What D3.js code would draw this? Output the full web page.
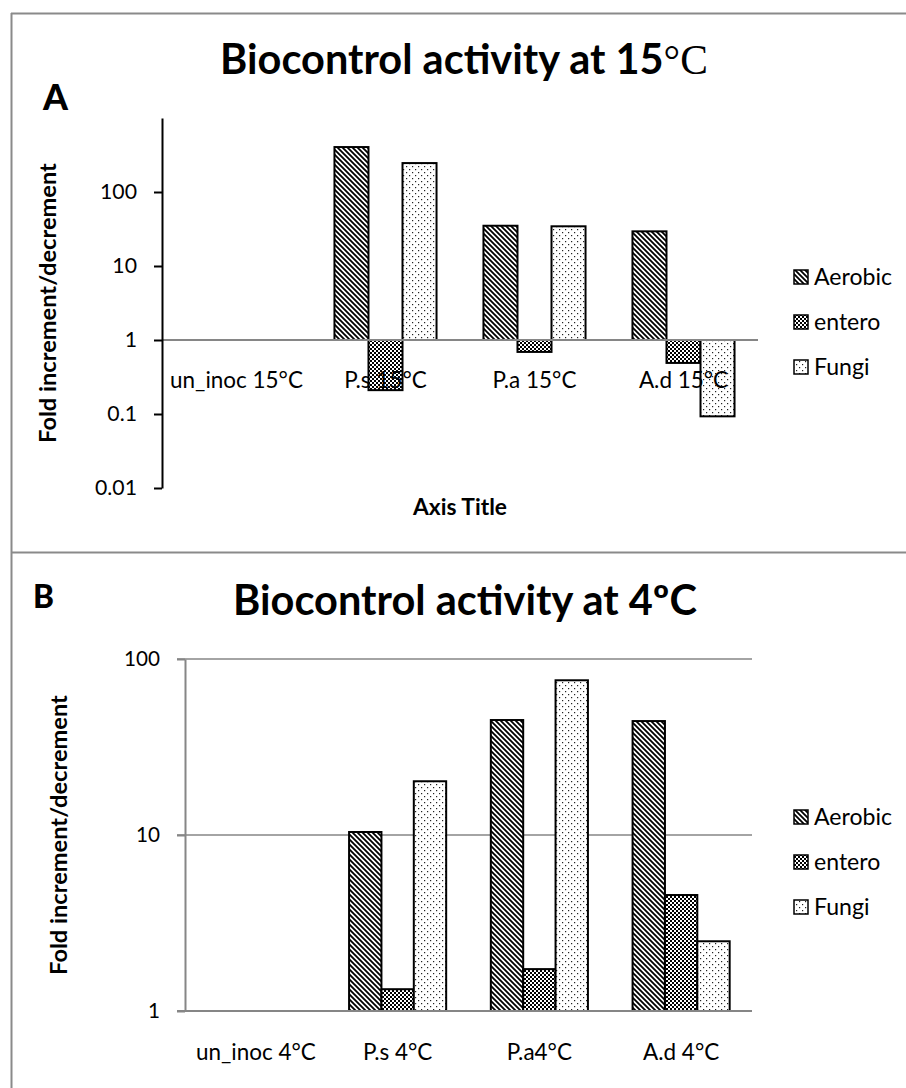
<!DOCTYPE html>
<html><head><meta charset="utf-8">
<script src="https://cdn.jsdelivr.net/npm/d3@7"></script>
<style>body{margin:0;background:#fff} svg{display:block}</style>
</head><body>
<svg id="c" width="906" height="1088"></svg>
<script>
// ---------------- DATA ----------------
const seriesNames = ["Aerobic", "entero", "Fungi"];

const categoriesA = ["un_inoc 15°C", "P.s 15°C", "P.a 15°C", "A.d 15°C"];
const aerobicA = [1, 405, 35, 29.4];
const enteroA  = [1, 0.21, 0.69, 0.49];
const fungiA   = [1, 246, 34.4, 0.093];
const ticksA = [0.01, 0.1, 1, 10, 100];
const tickLabelsA = ["0.01", "0.1", "1", "10", "100"];

const categoriesB = ["un_inoc 4°C", "P.s 4°C", "P.a4°C", "A.d 4°C"];
const aerobicB = [1, 10.4, 45, 44.4];
const enteroB  = [1, 1.33, 1.73, 4.56];
const fungiB   = [1, 20.2, 75.7, 2.49];
const ticksB = [1, 10, 100];
const tickLabelsB = ["1", "10", "100"];

// ---------------- SETUP ----------------
const FONT = "Lato, 'Open Sans', sans-serif";
const svg = d3.select("#c");
const defs = svg.append("defs");

// Aerobic: diagonal stripes
const pA = defs.append("pattern").attr("id", "pat0").attr("patternUnits", "userSpaceOnUse")
  .attr("width", 5).attr("height", 5);
pA.append("rect").attr("width", 5).attr("height", 5).attr("fill", "#fff");
pA.append("path").attr("d", "M-1,-1 L6,6 M-1,4 L1,6 M4,-1 L6,1")
  .attr("stroke", "#000").attr("stroke-width", 1.8);
// entero: checker
const pE = defs.append("pattern").attr("id", "pat1").attr("patternUnits", "userSpaceOnUse")
  .attr("width", 4).attr("height", 4);
pE.append("rect").attr("width", 4).attr("height", 4).attr("fill", "#000");
pE.append("rect").attr("x", 0).attr("y", 0).attr("width", 2).attr("height", 2).attr("fill", "#fff");
pE.append("rect").attr("x", 2).attr("y", 2).attr("width", 2).attr("height", 2).attr("fill", "#fff");
// Fungi: sparse dots
const pF = defs.append("pattern").attr("id", "pat2").attr("patternUnits", "userSpaceOnUse")
  .attr("width", 6).attr("height", 6);
pF.append("rect").attr("width", 6).attr("height", 6).attr("fill", "#fff");
pF.append("rect").attr("x", 1).attr("y", 1).attr("width", 1.2).attr("height", 1.2).attr("fill", "#222");
pF.append("rect").attr("x", 4).attr("y", 4).attr("width", 1.2).attr("height", 1.2).attr("fill", "#222");

// helper: fit a text selection's font-size to a target width
function fit(sel, target) {
  const w = sel.node().getComputedTextLength();
  const fs = parseFloat(sel.attr("font-size"));
  const nf = fs * target / w;
  sel.attr("font-size", nf);
  return nf;
}
function measure(str, weight, target) {
  const t = svg.append("text").attr("font-family", FONT).attr("font-weight", weight)
    .attr("font-size", 20).text(str);
  const s = fit(t, target);
  t.remove();
  return s;
}

// ---------------- FRAME ----------------
svg.append("line").attr("x1", 11.5).attr("x2", 11.5).attr("y1", 13).attr("y2", 1088)
  .attr("stroke", "#8a8a8a").attr("stroke-width", 2);
svg.append("line").attr("x1", 11).attr("x2", 906).attr("y1", 13.5).attr("y2", 13.5)
  .attr("stroke", "#8a8a8a").attr("stroke-width", 2);
svg.append("line").attr("x1", 11).attr("x2", 906).attr("y1", 552.5).attr("y2", 552.5)
  .attr("stroke", "#8a8a8a").attr("stroke-width", 2);

// ---------------- CHART FUNCTION ----------------
function drawChart(cfg) {
  const g = svg.append("g");
  const x = d3.scaleBand().domain(cfg.categories).range([cfg.x0, cfg.x1])
    .paddingInner(0.315).paddingOuter(0.1575);
  const xs = d3.scaleBand().domain(seriesNames).range([0, x.bandwidth()]);
  const y = d3.scaleLog().domain(cfg.yDomain).range(cfg.yRange);

  // gridlines
  if (cfg.grid) {
    g.selectAll(".grid").data(cfg.ticks.filter(t => t !== 1)).join("line")
      .attr("x1", cfg.x0 - 8).attr("x2", cfg.x1)
      .attr("y1", d => y(d)).attr("y2", d => y(d))
      .attr("stroke", "#868686").attr("stroke-width", 1.5);
  }

  // bars
  const data = [];
  cfg.categories.forEach((c, i) => {
    cfg.series.forEach((arr, s) => {
      if (arr[i] !== 1) data.push({ c, s, v: arr[i] });
    });
  });
  g.selectAll(".bar").data(data).join("rect")
    .attr("x", d => x(d.c) + xs(seriesNames[d.s]))
    .attr("width", xs.bandwidth())
    .attr("y", d => Math.min(y(d.v), y(1)))
    .attr("height", d => Math.abs(y(d.v) - y(1)))
    .attr("fill", d => `url(#pat${d.s})`)
    .attr("stroke", "#000").attr("stroke-width", 2);

  // horizontal axis line at 1
  g.append("line").attr("x1", cfg.grid ? cfg.x0 - 8 : cfg.x0).attr("x2", cfg.x1)
    .attr("y1", y(1)).attr("y2", y(1))
    .attr("stroke", "#868686").attr("stroke-width", 2);

  // y axis
  const tickSize = measure(cfg.tickLabels[cfg.tickLabels.length - 1], 400, cfg.tickW);
  const ax = g.append("g").attr("transform", `translate(${cfg.x0},0)`)
    .call(d3.axisLeft(y).tickValues(cfg.ticks).tickFormat((d, i) => cfg.tickLabels[i])
      .tickSize(8).tickSizeOuter(0).tickPadding(17));
  ax.select(".domain").attr("stroke", cfg.axisColor).attr("stroke-width", 2);
  ax.selectAll(".tick line").attr("stroke", cfg.axisColor).attr("stroke-width", 2);
  ax.selectAll(".tick text").attr("font-family", FONT).attr("font-size", tickSize)
    .attr("fill", "#000");

  // category labels
  const catSize = measure(cfg.categories[0], 400, cfg.catW);
  g.selectAll(".cat").data(cfg.categories).join("text")
    .attr("x", d => x(d) + x.bandwidth() / 2).attr("y", cfg.catY)
    .attr("text-anchor", "middle").attr("font-family", FONT).attr("font-size", catSize)
    .attr("fill", "#000").text(d => d);

  // title
  const t = g.append("text").attr("x", cfg.titleX).attr("y", cfg.titleY)
    .attr("text-anchor", "middle").attr("font-family", FONT).attr("font-weight", 700)
    .attr("font-size", 40).attr("fill", "#000");
  t.append("tspan").text(cfg.titleMain);
  t.append("tspan").attr("font-family", cfg.titleSuffixFont).attr("font-weight", cfg.titleSuffixWeight)
    .text(cfg.titleSuffix);
  fit(t, cfg.titleW);

  // panel letter
  const L = g.append("text").attr("x", cfg.letterX).attr("y", cfg.letterY)
    .attr("font-family", FONT).attr("font-weight", 900).attr("font-size", 30)
    .attr("fill", "#000").text(cfg.letter);
  fit(L, cfg.letterW);

  // y title
  const yt = g.append("text").attr("transform", `translate(${cfg.yTitleX},${cfg.yTitleY}) rotate(-90)`)
    .attr("text-anchor", "middle").attr("font-family", FONT).attr("font-weight", 700)
    .attr("font-size", 20).attr("fill", "#000").text("Fold increment/decrement");
  fit(yt, 280);

  // x title
  if (cfg.xTitle) {
    const xt = g.append("text").attr("x", (cfg.x0 + cfg.x1) / 2).attr("y", cfg.xTitleY)
      .attr("text-anchor", "middle").attr("font-family", FONT).attr("font-weight", 700)
      .attr("font-size", 18).attr("fill", "#000").text(cfg.xTitle);
    fit(xt, 94);
  }

  // legend
  const legSize = measure("Aerobic", 400, 78);
  const lg = g.append("g");
  seriesNames.forEach((n, i) => {
    const cy = cfg.legY[i];
    lg.append("rect").attr("x", 794).attr("y", cy - 7).attr("width", 14).attr("height", 14)
      .attr("fill", `url(#pat${i})`).attr("stroke", "#000").attr("stroke-width", 1.5);
    lg.append("text").attr("x", 814).attr("y", cy).attr("dy", "0.36em")
      .attr("font-family", FONT).attr("font-size", legSize).attr("fill", "#000").text(n);
  });
}

drawChart({
  categories: categoriesA, series: [aerobicA, enteroA, fungiA],
  x0: 162, x1: 758, yDomain: [0.01, 1000], yRange: [488, 118],
  ticks: ticksA, tickLabels: tickLabelsA, tickW: 37, axisColor: "#000", grid: false,
  catW: 133, catY: 388,
  titleMain: "Biocontrol activity at 15", titleSuffix: "°C",
  titleSuffixFont: "'Liberation Serif', serif", titleSuffixWeight: 400,
  titleX: 464, titleY: 74, titleW: 488,
  letter: "A", letterX: 43, letterY: 110, letterW: 25,
  yTitleX: 56, yTitleY: 303,
  xTitle: "Axis Title", xTitleY: 515,
  legY: [277, 322, 367]
});

drawChart({
  categories: categoriesB, series: [aerobicB, enteroB, fungiB],
  x0: 185, x1: 752, yDomain: [1, 100], yRange: [1011, 659],
  ticks: ticksB, tickLabels: tickLabelsB, tickW: 36, axisColor: "#868686", grid: true,
  catW: 120, catY: 1060,
  titleMain: "Biocontrol activity at 4ºC", titleSuffix: "",
  titleSuffixFont: FONT, titleSuffixWeight: 700,
  titleX: 465, titleY: 615, titleW: 464,
  letter: "B", letterX: 33, letterY: 608, letterW: 21,
  yTitleX: 67, yTitleY: 835,
  xTitle: null,
  legY: [817, 862, 907]
});
</script>
</body></html>
